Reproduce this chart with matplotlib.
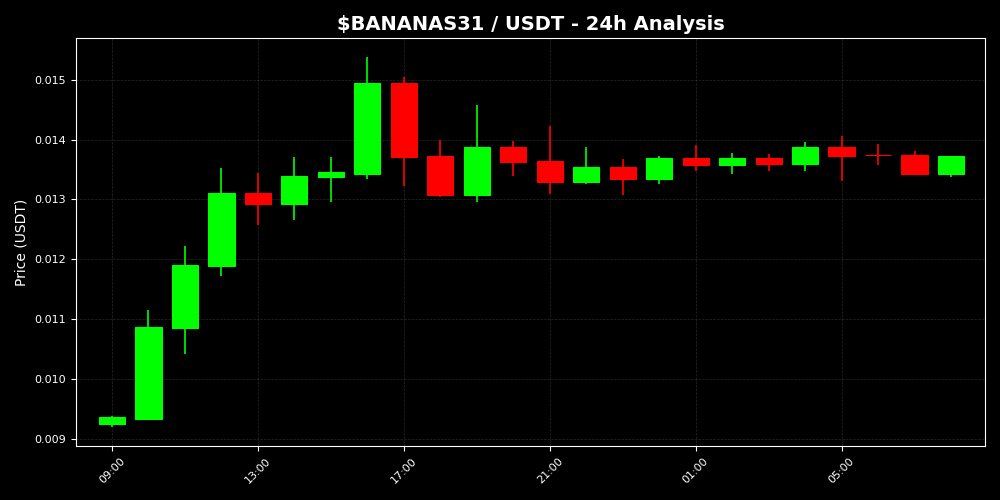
import numpy as np
import pandas as pd
import matplotlib
matplotlib.use('Agg')
import matplotlib.pyplot as plt
import matplotlib.dates as mdates

# hourly candles, 09:00 -> 08:00 next day
times = pd.date_range('2025-01-01 09:00', periods=24, freq='h')
opens = [0.009250, 0.009333, 0.010855, 0.011883, 0.013100, 0.012917, 0.013367, 0.013417,
         0.014938, 0.013733, 0.013067, 0.013872, 0.013638, 0.013283, 0.013538, 0.013338,
         0.013688, 0.013583, 0.013688, 0.013600, 0.013883, 0.013745, 0.013750, 0.013433]
closes = [0.009355, 0.010872, 0.011900, 0.013100, 0.012917, 0.013388, 0.013455, 0.014938,
          0.013717, 0.013067, 0.013872, 0.013633, 0.013283, 0.013538, 0.013338, 0.013688,
          0.013583, 0.013688, 0.013600, 0.013883, 0.013733, 0.013740, 0.013433, 0.013722]
highs = [0.009383, 0.011150, 0.012217, 0.013517, 0.013438, 0.013717, 0.013717, 0.015388,
         0.015050, 0.014000, 0.014583, 0.013983, 0.014233, 0.013872, 0.013672, 0.013733,
         0.013917, 0.013783, 0.013767, 0.013967, 0.014067, 0.013933, 0.013817, 0.013733]
lows = [0.009188, 0.009333, 0.010417, 0.011717, 0.012567, 0.012650, 0.012950, 0.013338,
        0.013222, 0.013038, 0.012955, 0.013388, 0.013083, 0.013262, 0.013067, 0.013250,
        0.013483, 0.013417, 0.013483, 0.013467, 0.013305, 0.013567, 0.013417, 0.013367]

up_color = '#00ff00'
down_color = '#ff0000'

fig, ax = plt.subplots(figsize=(10, 5), dpi=100)
fig.patch.set_facecolor('black')
ax.set_facecolor('black')

x = mdates.date2num(times)
width = 0.03  # days

for i in range(len(x)):
    o, c, h, l = opens[i], closes[i], highs[i], lows[i]
    col = up_color if c > o else down_color
    ax.vlines(x[i], l, h, color=col, linewidth=1.2, zorder=2)
    ax.bar(x[i], abs(c - o), width=width, bottom=min(o, c), color=col,
           edgecolor=col, linewidth=0.8, zorder=3)

ax.set_xlim(x[0] - 0.985 / 24, x[-1] + 0.93 / 24)
ax.xaxis.set_major_locator(mdates.HourLocator(byhour=[1, 5, 9, 13, 17, 21]))
ax.xaxis.set_major_formatter(mdates.DateFormatter('%H:%M'))
plt.setp(ax.get_xticklabels(), rotation=45)

ax.set_title('$BANANAS31 / USDT - 24h Analysis', color='white', fontsize=14,
             fontweight='bold')
ax.set_ylabel('Price (USDT)', color='white', fontsize=10)
ax.tick_params(colors='white', labelsize=8)
for sp in ax.spines.values():
    sp.set_color('white')
ax.grid(True, color='gray', linestyle='--', linewidth=0.5, alpha=0.3)
ax.set_axisbelow(True)

plt.subplots_adjust(left=0.076, right=0.985, top=0.924, bottom=0.108)
plt.savefig('out.png', facecolor='black')
